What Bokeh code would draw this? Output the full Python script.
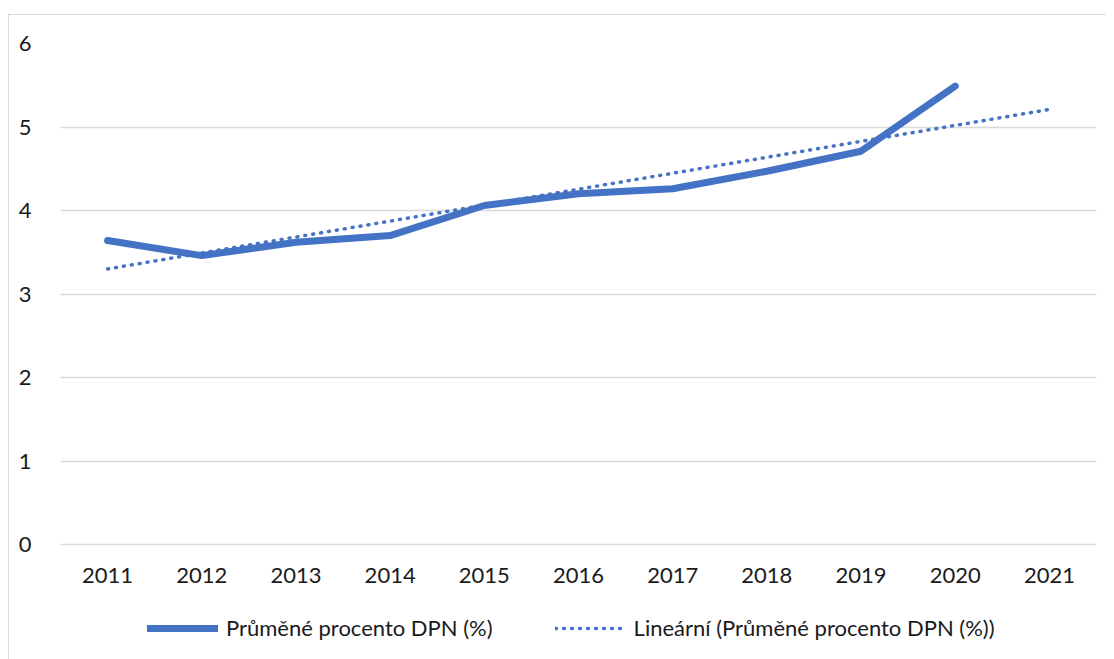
from bokeh.plotting import figure
from bokeh.models import Range1d, Legend, LegendItem, ColumnDataSource, FixedTicker
from bokeh.core.properties import value
from bokeh.embed import file_html
from bokeh.resources import INLINE

years = [2011, 2012, 2013, 2014, 2015, 2016, 2017, 2018, 2019, 2020, 2021]
year_labels = ["2011", "2012", "2013", "2014", "2015", "2016", "2017", "2018", "2019", "2020", "2021"]
data_years = [2011, 2012, 2013, 2014, 2015, 2016, 2017, 2018, 2019, 2020]
dpn_values = [3.64, 3.46, 3.62, 3.70, 4.06, 4.20, 4.26, 4.47, 4.71, 5.49]
trend_years = [2011, 2021]
trend_values = [3.30, 5.21]
y_ticks = [0, 1, 2, 3, 4, 5, 6]

series_label = "Průměné procento DPN (%)"
trend_label = "Lineární (Průměné procento DPN (%))"

FONT = "Lato"
BLUE = "#4472C4"
GRID = "#d9d9d9"
TXT = "#1a1a1a"
LABEL_Y = -0.37
Y_BOTTOM = -1.377

p = figure(
    frame_width=1036, frame_height=616,
    x_range=Range1d(years[0] - 0.5, years[-1] + 0.5),
    y_range=Range1d(Y_BOTTOM, 6),
    output_backend="svg", toolbar_location=None,
    min_border_left=51, min_border_right=10, min_border_top=28, min_border_bottom=0,
)
p.styles = {"border-top": "1.5px solid #d9d9d9", "border-left": "1.5px solid #d9d9d9",
            "margin-top": "14px", "margin-left": "8px"}
p.outline_line_color = None
p.background_fill_color = "white"

src = ColumnDataSource(dict(x=data_years, y=dpn_values))
tsrc = ColumnDataSource(dict(x=trend_years, y=trend_values))
lsrc = ColumnDataSource(dict(x=years, y=[LABEL_Y] * len(years), t=year_labels))

r1 = p.line("x", "y", source=src, line_color=BLUE, line_width=7, line_join="round", line_cap="round")
r2 = p.line("x", "y", source=tsrc, line_color=BLUE, line_width=3.5, line_dash="1 7", line_cap="round")

p.text("x", "y", text="t", source=lsrc, text_font=value(FONT), text_font_size="22px",
       text_color=TXT, text_align="center", text_baseline="middle")

p.xaxis.visible = False
p.xgrid.grid_line_color = None
p.ygrid.grid_line_color = GRID
p.ygrid.grid_line_width = 1.5
p.yaxis.ticker = FixedTicker(ticks=y_ticks)

ax = p.yaxis[0]
ax.axis_line_color = None
ax.major_tick_line_color = None
ax.minor_tick_line_color = None
ax.major_label_text_font = FONT
ax.major_label_text_font_size = "22px"
ax.major_label_text_color = TXT
ax.major_label_standoff = 23

legend = Legend(
    items=[LegendItem(label=series_label, renderers=[r1]), LegendItem(label=trend_label, renderers=[r2])],
    orientation="horizontal", location=(87, 18),
    glyph_width=71, glyph_height=20, label_standoff=8, spacing=62,
    label_text_font=FONT, label_text_font_size="22px", label_text_color=TXT,
    border_line_color=None, background_fill_alpha=0, padding=0, margin=0,
)
p.add_layout(legend, "center")

open("out.html", "w").write(file_html(p, INLINE))
